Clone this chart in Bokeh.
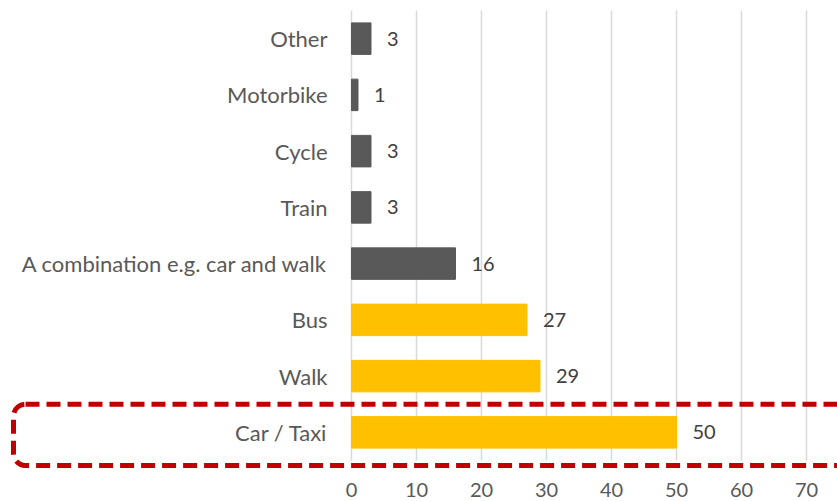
from bokeh.plotting import figure
from bokeh.models import Range1d, FixedTicker, ColumnDataSource, BoxAnnotation
from bokeh.core.properties import value
from bokeh.embed import file_html
from bokeh.resources import INLINE

# data (bottom to top)
categories = ["Car / Taxi", "Walk", "Bus", "A combination e.g. car and walk",
              "Train", "Cycle", "Motorbike", "Other"]
values = [50, 29, 27, 16, 3, 3, 1, 3]
colors = ["#FFC000", "#FFC000", "#FFC000", "#595959",
          "#595959", "#595959", "#595959", "#595959"]
x_ticks = [0, 10, 20, 30, 40, 50, 60, 70]

FONT = "Lato"

rows = list(range(len(categories)))
src = ColumnDataSource(dict(y=rows, cat=categories, val=values, col=colors,
                            lab=[str(v) for v in values],
                            zero=[0] * len(values)))

p = figure(width=837, height=501,
           x_range=Range1d(-54.0, 74.77), y_range=Range1d(-0.678, 7.678),
           output_backend="svg", toolbar_location=None,
           min_border_left=0, min_border_right=0,
           min_border_top=0, min_border_bottom=31)

# vertical gridlines restricted to the category rows
p.segment(x0=x_ticks, x1=x_ticks, y0=-0.5, y1=len(categories) - 0.5,
          line_color="#D9D9D9", line_width=1.5)

p.hbar(y="y", right="val", left=0, height=0.56, color="col", source=src)

# value labels
p.text(x="val", y="y", text="lab", source=src, x_offset=16,
       text_align="left", text_baseline="middle",
       text_font=value(FONT), text_font_size="20px", text_color="#404040")

# category labels
p.text(x="zero", y="y", text="cat", source=src, x_offset=-24,
       text_align="right", text_baseline="middle",
       text_font=value(FONT), text_font_size="22px", text_color="#595959")

# highlight box around Car / Taxi
box = BoxAnnotation(left=-52.0, right=90, top=0.5, bottom=-0.587,
                    fill_alpha=0, line_color="#C00000", line_alpha=1.0,
                    line_width=5, line_dash="14 7", border_radius=12)
p.add_layout(box)

p.outline_line_color = None
p.grid.visible = False
p.yaxis.visible = False
p.xaxis.ticker = FixedTicker(ticks=x_ticks)
p.xaxis.axis_line_color = None
p.xaxis.major_tick_line_color = None
p.xaxis.minor_tick_line_color = None
p.xaxis.major_tick_out = 0
p.xaxis.major_label_text_font = FONT
p.xaxis.major_label_text_font_size = "20px"
p.xaxis.major_label_text_color = "#595959"
p.xaxis.major_label_standoff = 12

open("out.html", "w").write(file_html(p, INLINE))
